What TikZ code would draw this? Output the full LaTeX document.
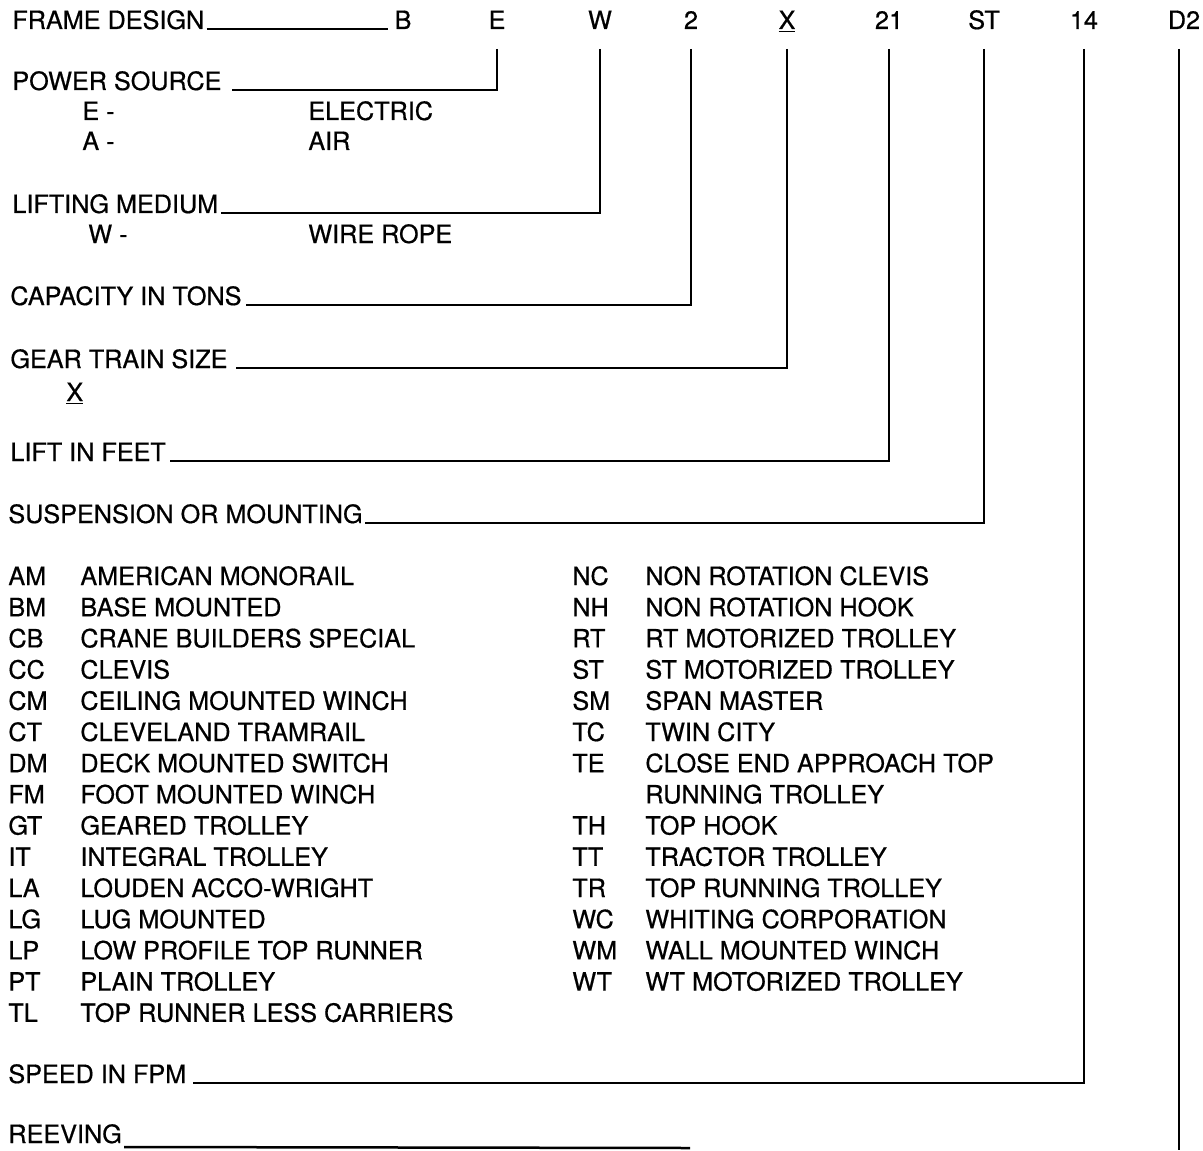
\documentclass[tikz,border=0pt]{standalone}
\usepackage{fontspec}
\setmainfont[FakeBold=0.6]{TeX Gyre Heros}
\usetikzlibrary{positioning}

\tikzset{
  lbl/.style={anchor=base west, inner sep=0pt, font=\fontsize{12.6}{14}\selectfont},
  code/.style={anchor=base, inner sep=0pt, font=\fontsize{12.6}{14}\selectfont},
  lead/.style={line width=1.25pt}
}

\begin{document}
\begin{tikzpicture}[x=0.5pt, y=-0.5pt]
  \useasboundingbox (0,0) rectangle (1203,1150);

  % model number
  \node (frm) [lbl] at (12,29) {FRAME DESIGN};
  \node (cB) [code] at (403,29) {B};
  \node (cE) [code] at (497,29) {E};
  \node (cW) [code] at (600,29) {W};
  \node (c2) [code] at (691,29) {2};
  \node (cX) [code] at (787,29) {\underline{X}};
  \node (c21) [code] at (889,29) {21};
  \node (cST) [code] at (984,29) {ST};
  \node (c14) [code] at (1084,29) {14};
  \node (cD) [code] at (1184,29) {D2};

  % field labels
  \node (pwr) [lbl] at (12,90) {POWER SOURCE};
  \node (pE) [lbl] at (82,120) {E -};
  \node (pEt) [lbl] at (308,120) {ELECTRIC};
  \node (pA) [lbl] at (82,150) {A -};
  \node (pAt) [lbl] at (308,150) {AIR};
  \node (lift) [lbl] at (12,213) {LIFTING MEDIUM};
  \node (lW) [lbl] at (88,243) {W -};
  \node (lWt) [lbl] at (308,243) {WIRE ROPE};
  \node (cap) [lbl] at (10,305) {CAPACITY IN TONS};
  \node (gear) [lbl] at (10,368) {GEAR TRAIN SIZE};
  \node (gX) [lbl] at (66,401) {\underline{X}};
  \node (feet) [lbl] at (10,461) {LIFT IN FEET};
  \node (susp) [lbl] at (8,523) {SUSPENSION OR MOUNTING};
  \node (spd) [lbl] at (8,1083) {SPEED IN FPM};
  \node (rev) [lbl] at (8,1143) {REEVING};

  % suspension codes
  \foreach \c/\t [count=\i from 0] in {AM/AMERICAN MONORAIL, BM/BASE MOUNTED,
      CB/CRANE BUILDERS SPECIAL, CC/CLEVIS, CM/CEILING MOUNTED WINCH,
      CT/CLEVELAND TRAMRAIL, DM/DECK MOUNTED SWITCH, FM/FOOT MOUNTED WINCH,
      GT/GEARED TROLLEY, IT/INTEGRAL TROLLEY, LA/LOUDEN ACCO-WRIGHT,
      LG/LUG MOUNTED, LP/LOW PROFILE TOP RUNNER, PT/PLAIN TROLLEY,
      TL/TOP RUNNER LESS CARRIERS} {
    \node (sl\i) [lbl] at (8,585+31.2*\i) {\c};
    \node (tl\i) [lbl] at (80,585+31.2*\i) {\t};
  }
  \foreach \c/\t [count=\i from 0] in {NC/NON ROTATION CLEVIS, NH/NON ROTATION HOOK,
      RT/RT MOTORIZED TROLLEY, ST/ST MOTORIZED TROLLEY, SM/SPAN MASTER,
      TC/TWIN CITY, TE/CLOSE END APPROACH TOP, /RUNNING TROLLEY, TH/TOP HOOK,
      TT/TRACTOR TROLLEY, TR/TOP RUNNING TROLLEY, WC/WHITING CORPORATION,
      WM/WALL MOUNTED WINCH, WT/WT MOTORIZED TROLLEY} {
    \node (sr\i) [lbl] at (572,585+31.2*\i) {\c};
    \node (tr\i) [lbl] at (645,585+31.2*\i) {\t};
  }

  \coordinate (rvEnd) at (690,1148);
  \coordinate (dEnd) at (1179,1150);

  % leader lines
  \draw[lead] ([xshift=1pt]frm.base east) -- ([xshift=-3pt]cB.base west);
  \draw[lead] ([yshift=-10pt]cE.base) -- (cE |- pwr.base) -- ([xshift=5pt]pwr.base east);
  \draw[lead] ([yshift=-10pt]cW.base) -- (cW |- lift.base) -- ([xshift=1pt]lift.base east);
  \draw[lead] ([yshift=-10pt]c2.base) -- (c2 |- cap.base) -- ([xshift=2pt]cap.base east);
  \draw[lead] ([yshift=-10pt]cX.base) -- (cX |- gear.base) -- ([xshift=4pt]gear.base east);
  \draw[lead] ([yshift=-10pt]c21.base) -- (c21 |- feet.base) -- ([xshift=2pt]feet.base east);
  \draw[lead] ([yshift=-10pt]cST.base) -- (cST |- susp.base) -- ([xshift=1pt]susp.base east);
  \draw[lead] ([yshift=-10pt]c14.base) -- (c14 |- spd.base) -- ([xshift=3pt]spd.base east);
  \draw[lead] ([xshift=-2.5pt,yshift=-10pt]cD.base) -- (dEnd);
  \draw[lead] ([xshift=1pt,yshift=-2pt]rev.base east) -- (rvEnd);
\end{tikzpicture}
\end{document}
